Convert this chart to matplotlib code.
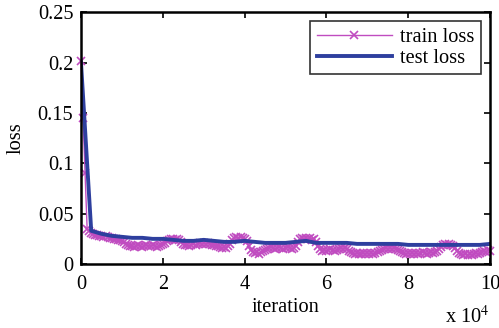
import matplotlib
matplotlib.use('Agg')
import matplotlib.pyplot as plt
import numpy as np

plt.rcParams['font.family'] = 'Liberation Serif'
plt.rcParams['mathtext.fontset'] = 'stix'

# train loss, sampled every 500 iterations
train_step = 500
train_loss = [
    0.202, 0.145, 0.090, 0.035,
    0.033, 0.031, 0.030, 0.029,
    0.029, 0.028, 0.028, 0.027, 0.028, 0.027, 0.026, 0.026, 0.025, 0.025, 0.024, 0.024, 0.023, 0.022,
    0.020, 0.019, 0.018, 0.018, 0.017, 0.018, 0.019, 0.018, 0.017, 0.018,
    0.019, 0.018, 0.018, 0.019, 0.018, 0.017, 0.018, 0.019, 0.020, 0.021,
    0.023, 0.024, 0.025, 0.025, 0.024, 0.025, 0.024, 0.022,
    0.020, 0.019, 0.019, 0.018, 0.019, 0.020, 0.019, 0.020, 0.021, 0.020, 0.021, 0.020,
    0.021, 0.020, 0.019, 0.019, 0.018, 0.018,
    0.017, 0.016, 0.017, 0.016, 0.018, 0.020,
    0.024, 0.026, 0.027, 0.026, 0.027, 0.026, 0.025, 0.023,
    0.018, 0.014, 0.012, 0.011, 0.012, 0.010, 0.012, 0.013, 0.014, 0.015,
    0.016, 0.017, 0.016, 0.015, 0.016, 0.017, 0.016, 0.015, 0.016, 0.017, 0.016, 0.015, 0.016, 0.018,
    0.022, 0.025, 0.026, 0.025, 0.026, 0.025, 0.026, 0.024, 0.025, 0.022, 0.018,
    0.015, 0.013, 0.014, 0.013, 0.014, 0.015, 0.014, 0.013, 0.014, 0.015, 0.016, 0.015, 0.016, 0.015, 0.013,
    0.012, 0.011, 0.010, 0.011, 0.010, 0.010, 0.011, 0.010, 0.011, 0.010, 0.011, 0.010, 0.011, 0.012, 0.013, 0.014,
    0.015, 0.016, 0.015, 0.016, 0.015, 0.016, 0.015, 0.014, 0.013,
    0.012, 0.011, 0.010, 0.011, 0.010, 0.011, 0.010, 0.011, 0.010, 0.011,
    0.012, 0.011, 0.010, 0.011, 0.012, 0.011, 0.012, 0.013, 0.015,
    0.017, 0.019, 0.020, 0.019, 0.020, 0.019, 0.018, 0.016,
    0.013, 0.011, 0.010, 0.009, 0.010, 0.009, 0.010, 0.009, 0.010, 0.011,
    0.010, 0.011, 0.012, 0.013, 0.012, 0.014, 0.013,
]

# test loss, sampled every 2500 iterations
test_step = 2500
test_loss = [
    0.200, 0.033, 0.030, 0.028, 0.027, 0.026, 0.026, 0.025, 0.025, 0.024,
    0.023, 0.023, 0.024, 0.023, 0.022, 0.022, 0.023, 0.022, 0.021, 0.021,
    0.021, 0.022, 0.023, 0.021, 0.021, 0.021, 0.021, 0.020, 0.020, 0.020,
    0.020, 0.020, 0.019, 0.019, 0.019, 0.019, 0.019, 0.019, 0.019, 0.019,
    0.020,
]

x_ticks = [0, 2, 4, 6, 8, 10]
y_ticks = [0, 0.05, 0.1, 0.15, 0.2, 0.25]
y_ticklabels = ['0', '0.05', '0.1', '0.15', '0.2', '0.25']

x_train = np.arange(len(train_loss)) * train_step / 1e4
x_test = np.arange(len(test_loss)) * test_step / 1e4

fs = 14.7
fig = plt.figure(figsize=(4.99, 3.28), dpi=100)
ax = fig.add_axes([0.1623, 0.195, 0.8197, 0.768])

ax.plot(x_train, train_loss, color='#c04cc0', lw=1.0, marker='x', ms=5.5, mew=1.2,
        label='train loss', clip_on=False)
ax.plot(x_test, test_loss, color='#2e3f9e', lw=2.8, label='test loss')

ax.set_xlim(0, 10)
ax.set_ylim(0, 0.25)
ax.set_xticks(x_ticks)
ax.set_xticklabels([str(t) for t in x_ticks])
ax.set_yticks(y_ticks)
ax.set_yticklabels(y_ticklabels)
ax.tick_params(direction='in', top=True, right=True, labelsize=fs, width=1.2, length=4)
ax.tick_params(axis='x', pad=8)
ax.tick_params(axis='y', pad=5.5)
for s in ax.spines.values():
    s.set_linewidth(1.8)

ax.set_xlabel('iteration', fontsize=fs, labelpad=3)
ax.set_ylabel('loss', fontsize=fs, labelpad=9)
fig.text(0.982, 0.015, r'x 10$^{4}$', fontsize=fs, ha='right', va='baseline')

leg = ax.legend(loc='upper right', fontsize=fs, fancybox=False, edgecolor='black',
                handlelength=3.7, borderpad=0.3, labelspacing=0.1, handletextpad=0.4,
                borderaxespad=0.45)
leg.get_frame().set_linewidth(1.2)

fig.savefig('out.png', dpi=100)
